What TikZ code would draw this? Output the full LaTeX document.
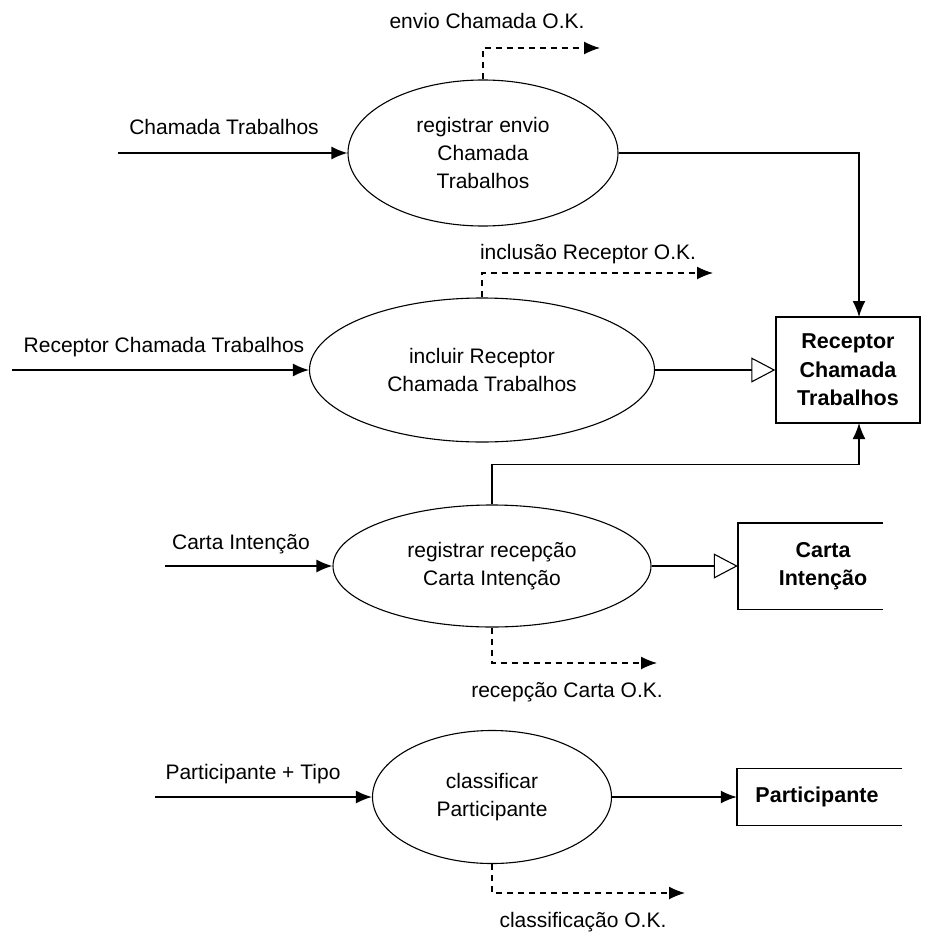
\documentclass[tikz,border=0pt]{standalone}
\usepackage{fontspec}
\setmainfont{Liberation Sans}
\usetikzlibrary{arrows.meta,shapes.geometric}
\begin{document}
\begin{tikzpicture}[x=1pt,y=-1pt,
  every node/.style={font=\fontsize{21}{28}\selectfont, inner sep=0pt},
  proc/.style={ellipse, draw, line width=1.1pt, align=center},
  store/.style={rectangle, align=center, font=\fontsize{21.5}{28.5}\selectfont\bfseries},
  flow/.style={line width=1.6pt, -{Latex[length=16pt,width=13pt]}},
  ioflow/.style={line width=1.6pt, -{Triangle[open,length=24pt,width=25pt,line width=1.1pt]}},
  okflow/.style={line width=1.4pt, dash pattern=on 6pt off 5pt, -{Latex[length=16pt,width=13pt]}},
  lbl/.style={anchor=base}]
\useasboundingbox (0,0) rectangle (928,934);

% processes
\node[proc, minimum width=270, minimum height=146] (e1) at (483,153) {registrar envio\\Chamada\\Trabalhos};
\node[proc, minimum width=345, minimum height=144] (e2) at (482,370) {incluir Receptor\\Chamada Trabalhos};
\node[proc, minimum width=318, minimum height=122] (e3) at (492,566) {registrar recepção\\Carta Intenção};
\node[proc, minimum width=239, minimum height=133] (e4) at (492,797) {classificar\\Participante};

% data stores
\node[store, draw, line width=1.4pt, minimum width=144, minimum height=106] (rcv) at (848,370) {Receptor\\Chamada\\Trabalhos};
\node[store, minimum width=145, minimum height=86] (cart) at (810.5,566) {};
\node[store] (cartxt) at (823,566) {Carta\\Intenção};
\draw[line width=1.4pt] (cart.north east) -- (cart.north west) -- (cart.south west) -- (cart.south east);
\node[store, minimum width=165, minimum height=57] (part) at (819.5,797) {};
\node[store] (partxt) at (817,797) {Participante};
\draw[line width=1.4pt] (part.north east) -- (part.north west) -- (part.south west) -- (part.south east);

% free ends
\coordinate (i1) at (118,153);
\coordinate (i2) at (12,370);
\coordinate (i3) at (165,566);
\coordinate (i4) at (155,797);
\coordinate (rt) at (859,317);
\coordinate (rb) at (859,423);
\coordinate (o1) at (600,48);
\coordinate (o2) at (713,273);
\coordinate (o3) at (657,663);
\coordinate (o4) at (685,893);

% inputs
\draw[flow] (i1) -- (e1.west);
\draw[flow] (i2) -- (e2.west);
\draw[flow] (i3) -- (e3.west);
\draw[flow] (i4) -- (e4.west);

% outputs
\draw[flow] (e1.east) -| (rt);
\draw[ioflow] (e2.east) -- (rcv.west);
\draw[flow] (e3.north) -- ++(0,-40) -| (rb);
\draw[ioflow] (e3.east) -- (cart.west);
\draw[flow] (e4.east) -- (part.west);

% confirmations
\draw[okflow] (e1.north) |- (o1);
\draw[okflow] (e2.north) |- (o2);
\draw[okflow] (e3.south) |- (o3);
\draw[okflow] (e4.south) |- (o4);

% flow labels
\node[lbl] (l1) at (224,134) {Chamada Trabalhos};
\node[lbl] (l2) at (164,352) {Receptor Chamada Trabalhos};
\node[lbl] (l3) at (241,549) {Carta Intenção};
\node[lbl] (l4) at (253,779) {Participante + Tipo};
\node[lbl] (l5) at (487,29) {envio Chamada O.K.};
\node[lbl] (l6) at (588,259) {inclusão Receptor O.K.};
\node[lbl] (l7) at (567,697) {recepção Carta O.K.};
\node[lbl] (l8) at (583,927) {classificação O.K.};
\end{tikzpicture}
\end{document}
